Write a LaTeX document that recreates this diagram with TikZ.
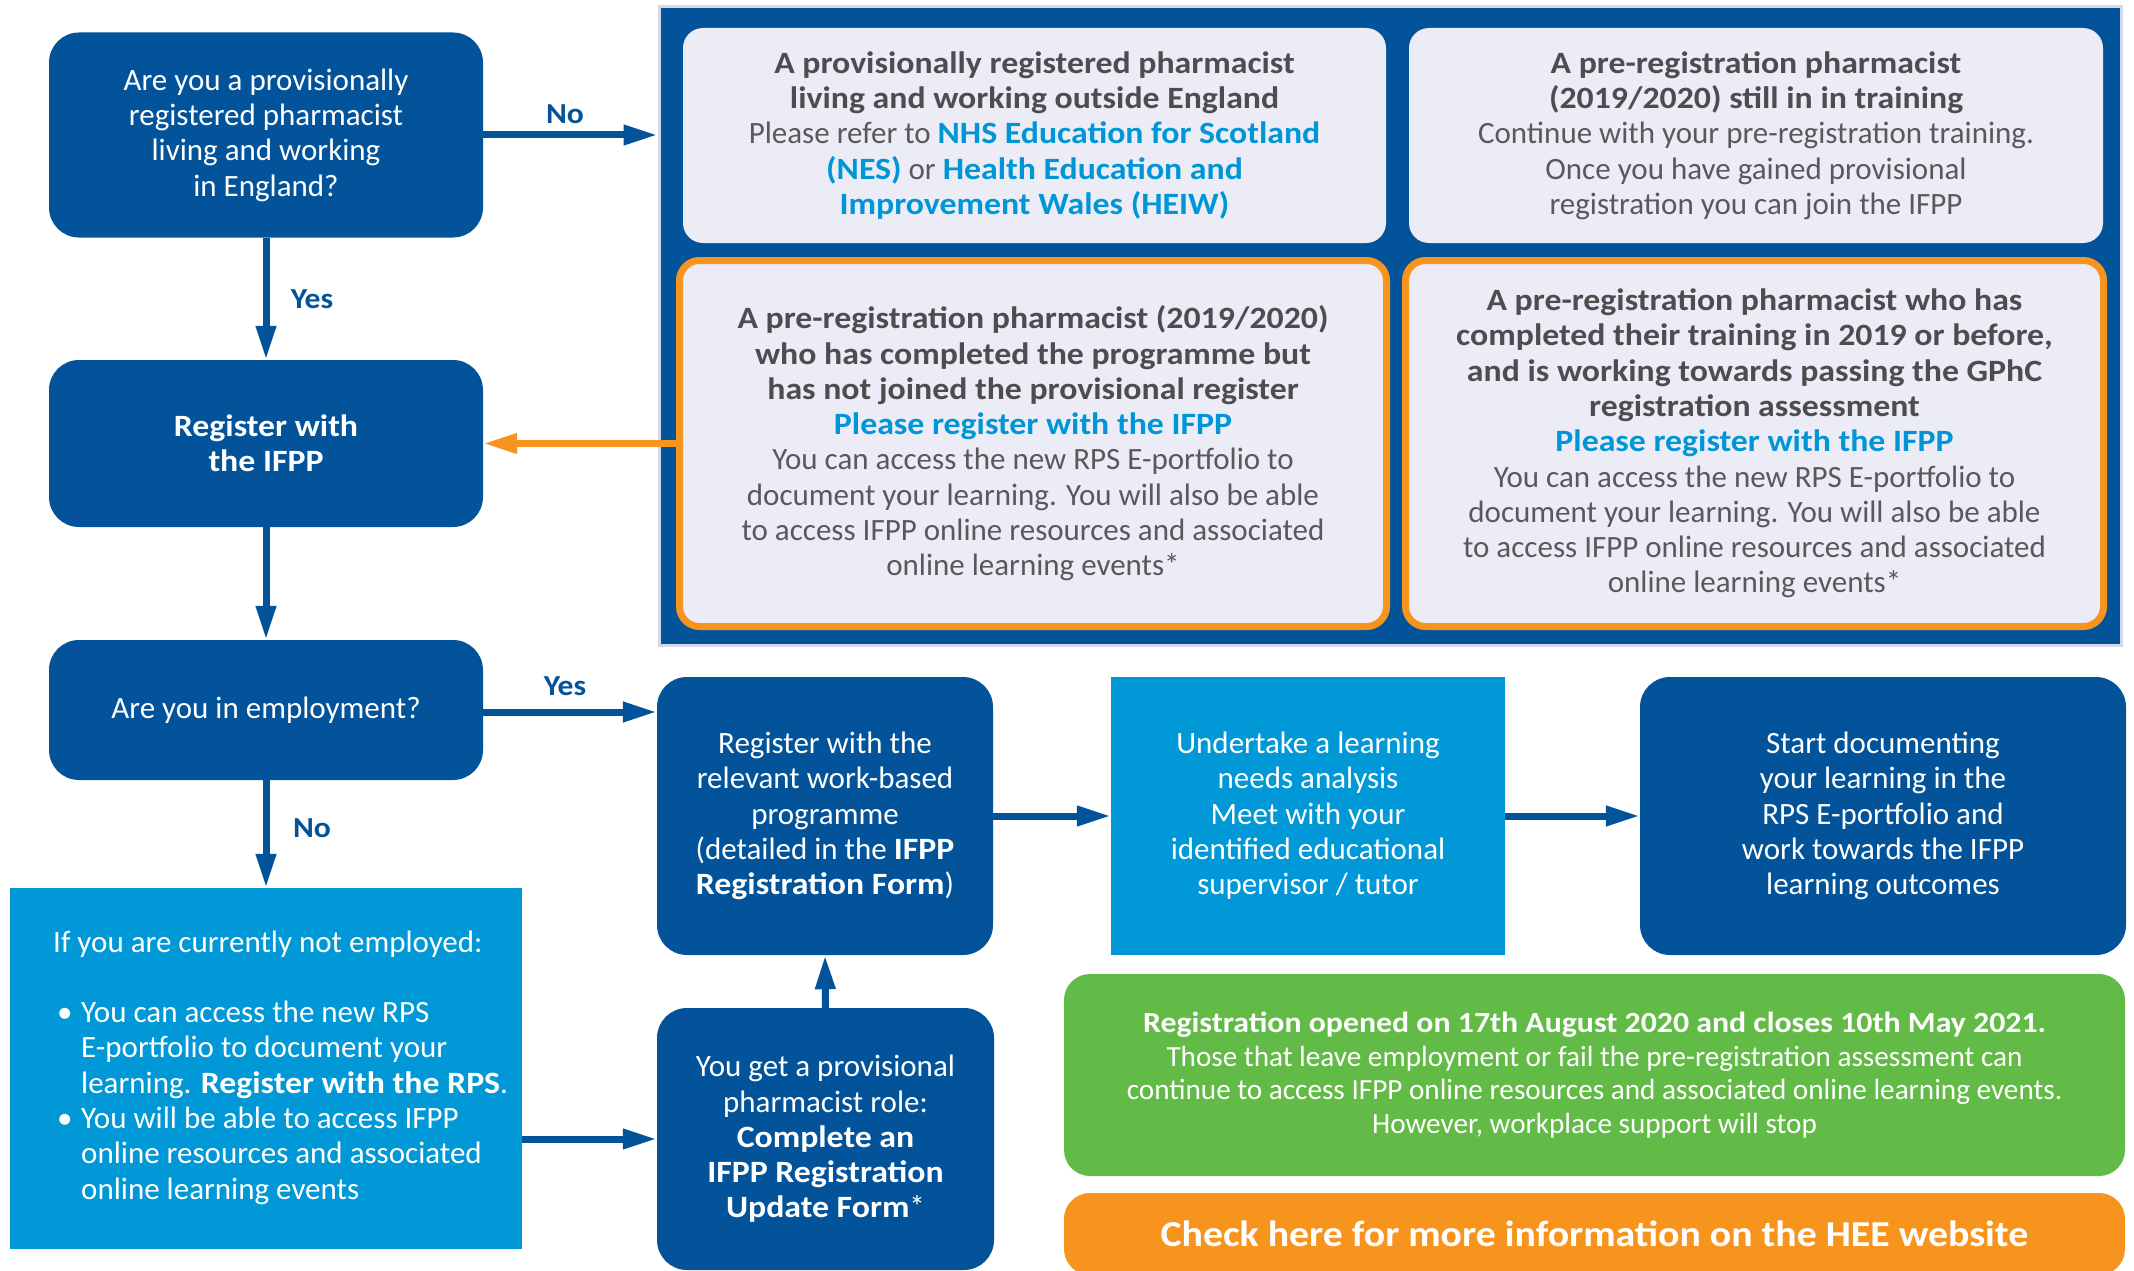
\documentclass[tikz,border=0pt]{standalone}
\usepackage{fontspec}
\setmainfont{Carlito}[BoldFeatures={FakeStretch=1.09}]
\usetikzlibrary{arrows.meta}
\definecolor{dblue}{HTML}{02539A}
\definecolor{lblue}{HTML}{0098D6}
\definecolor{gfill}{HTML}{ECECF6}
\definecolor{gtext}{HTML}{58595B}
\definecolor{htext}{HTML}{4D4D4F}
\definecolor{obox}{HTML}{F7941D}
\definecolor{grn}{HTML}{62BB46}
\definecolor{linkc}{HTML}{0096D6}
\definecolor{pedge}{HTML}{D5D8EA}
\newcommand\fsz[2]{\fontsize{#1}{#2}\selectfont}
\newcommand\hd[1]{\textcolor{htext}{\textbf{#1}}}
\newcommand\lk[1]{\textcolor{linkc}{\textbf{#1}}}
\tikzset{
  darkbox/.style={rectangle, rounded corners=30pt, fill=dblue, text=white, align=center, inner sep=0pt, font=\fsz{31}{35.3}},
  lightsq/.style={rectangle, fill=lblue, text=white, align=center, inner sep=0pt, font=\fsz{31}{35.3}},
  greybox/.style={rectangle, rounded corners=20pt, fill=gfill, text=gtext, align=center, inner sep=0pt, font=\fsz{31}{35.3}},
  orangeedge/.style={greybox, draw=obox, line width=7pt},
  arr/.style={draw=dblue, line width=7pt, -{Triangle[length=34pt,width=19pt]}},
  oarr/.style={draw=obox, line width=7pt, -{Triangle[length=34pt,width=19pt]}},
  lbl/.style={text=dblue, font=\fsz{29}{34}\bfseries, inner sep=0pt},
}
\begin{document}
\begin{tikzpicture}[x=1pt,y=-1pt]
\useasboundingbox (0,0) rectangle (2134,1271);
\clip (0,0) rectangle (2134,1271);
\fill[white] (0,0) rectangle (2134,1271);

% left column
\node[darkbox, minimum width=434pt, minimum height=205pt] (q1) at (266,135)
  {Are you a provisionally\\registered pharmacist\\living and working\\in England?};
\node[darkbox, minimum width=434pt, minimum height=167pt, font=\fsz{31}{35.3}\bfseries] (reg) at (266,443.5)
  {Register with\\the IFPP};
\node[darkbox, minimum width=434pt, minimum height=140pt] (emp) at (266,710)
  {Are you in employment?};
\node[lightsq, minimum width=512pt, minimum height=361pt] (notemp) at (266,1068.5) {};
\node[anchor=west, inner sep=0pt, text=white] (notemptxt) at (53,1067.5)
  {\parbox{470pt}{\fsz{31}{35.3}\parindent=0pt
  If you are currently not employed:\par
  \mbox{}\par
  \hangindent=28pt\hangafter=1\noindent\hspace*{4pt}\makebox[24pt][l]{\textbullet}You can access the new RPS\newline E-portfolio to document your\newline learning. \textbf{Register with the RPS}.\par
  \hangindent=28pt\hangafter=1\noindent\hspace*{4pt}\makebox[24pt][l]{\textbullet}You will be able to access IFPP\newline online resources and associated\newline online learning events\par}};

% panel
\node[rectangle, fill=dblue, draw=pedge, line width=3pt, minimum width=1462pt, minimum height=638pt, inner sep=0pt] (panel) at (1390,326) {};
\node[greybox, minimum width=703pt, minimum height=215pt] (gtl) at (1034.5,135.5)
  {\hd{A provisionally registered pharmacist}\\
   \hd{living and working outside England}\\
   Please refer to \lk{NHS Education for Scotland}\\
   \lk{(NES)} or \lk{Health Education and}\\
   \lk{Improvement Wales (HEIW)}};
\node[greybox, minimum width=694pt, minimum height=215pt] (gtr) at (1756,135.5)
  {\hd{A pre-registration pharmacist}\\
   \hd{(2019/2020) still in in training}\\
   Continue with your pre-registration training.\\
   Once you have gained provisional\\
   registration you can join the IFPP};
\node[orangeedge, minimum width=707pt, minimum height=366pt] (obl) at (1033,443.5)
  {\hd{A pre-registration pharmacist (2019/2020)}\\
   \hd{who has completed the programme but}\\
   \hd{has not joined the provisional register}\\
   \lk{Please register with the IFPP}\\
   You can access the new RPS E-portfolio to\\
   document your learning. You will also be able\\
   to access IFPP online resources and associated\\
   online learning events*};
\node[orangeedge, minimum width=698pt, minimum height=366pt] (obr) at (1754.5,443.5)
  {\hd{A pre-registration pharmacist who has}\\
   \hd{completed their training in 2019 or before,}\\
   \hd{and is working towards passing the GPhC}\\
   \hd{registration assessment}\\
   \lk{Please register with the IFPP}\\
   You can access the new RPS E-portfolio to\\
   document your learning. You will also be able\\
   to access IFPP online resources and associated\\
   online learning events*};

% lower row
\node[darkbox, minimum width=336pt, minimum height=278pt] (wb) at (825,816)
  {Register with the\\relevant work-based\\programme\\(detailed in the \textbf{IFPP}\\\textbf{Registration Form})};
\node[lightsq, minimum width=394pt, minimum height=278pt] (ln) at (1308,816)
  {Undertake a learning\\needs analysis\\Meet with your\\identified educational\\supervisor / tutor};
\node[darkbox, minimum width=486pt, minimum height=278pt] (start) at (1883,816)
  {Start documenting\\your learning in the\\RPS E-portfolio and\\work towards the IFPP\\learning outcomes};
\node[darkbox, minimum width=337pt, minimum height=262pt] (prov) at (825.5,1139)
  {You get a provisional\\pharmacist role:\\\textbf{Complete an}\\\textbf{IFPP Registration}\\\textbf{Update Form}*};
\node[rectangle, rounded corners=26pt, fill=grn, text=white, align=center, inner sep=0pt,
      minimum width=1061pt, minimum height=202pt, font=\fsz{29.2}{33.6}] (green) at (1594.5,1075)
  {\textbf{Registration opened on 17th August 2020 and closes 10th May 2021.}\\
   Those that leave employment or fail the pre-registration assessment can\\
   continue to access IFPP online resources and associated online learning events.\\
   However, workplace support will stop};
\node[rectangle, rounded corners=26pt, fill=obox, text=white, align=center, inner sep=0pt,
      minimum width=1061pt, minimum height=82pt, font=\fsz{36.5}{40}\bfseries] (hee) at (1594.5,1234)
  {Check here for more information on the HEE website};

% connectors
\draw[arr] (q1.east) -- (q1.east -| panel.west);
\draw[arr] (q1.south) -- (reg.north);
\draw[oarr] (obl.west) -- (reg.east);
\draw[arr] (reg.south) -- (emp.north);
\draw[arr] ([yshift=-2pt]emp.east) -- ([yshift=-2pt]emp.east -| wb.west);
\draw[arr] (emp.south) -- (notemp.north);
\draw[arr] (notemp.east |- prov.west) -- (prov.west);
\draw[arr] (prov.north) -- (wb.south);
\draw[arr] (wb.east) -- (ln.west);
\draw[arr] (ln.east) -- (start.west);

% labels
\node[lbl] (lno1) at (565,114) {No};
\node[lbl] (lyes1) at (312,299) {Yes};
\node[lbl] (lyes2) at (565,686) {Yes};
\node[lbl] (lno2) at (312,828) {No};
\end{tikzpicture}
\end{document}
